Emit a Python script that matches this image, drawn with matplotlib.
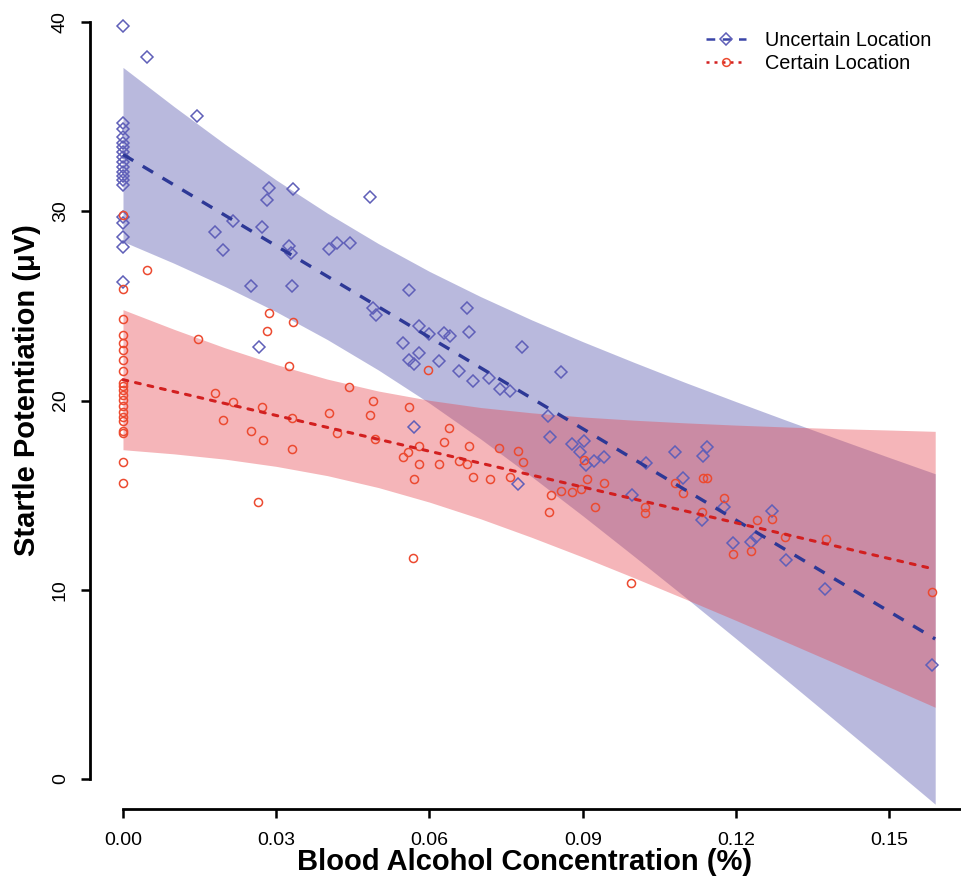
import matplotlib
matplotlib.use('Agg')
import matplotlib.pyplot as plt

plt.rcParams['font.family'] = ['Liberation Sans', 'DejaVu Sans']

# 관측값: Uncertain Location (파란 마름모)
uncertain_bac = [0] * 19 + [
    0.0047, 0.0145, 0.0286, 0.0333, 0.0282, 0.0215, 0.0272, 0.0180, 0.0196, 0.0325,
    0.0329, 0.0403, 0.0419, 0.0444, 0.0251, 0.0331, 0.0266, 0.0484, 0.0560, 0.0490,
    0.0495, 0.0674, 0.0580, 0.0599, 0.0629, 0.0640, 0.0678, 0.0548, 0.0580, 0.0560,
    0.0570, 0.0619, 0.0658, 0.0685, 0.0717, 0.0738, 0.0758, 0.0781, 0.0858, 0.0832,
    0.0836, 0.0879, 0.0895, 0.0903, 0.0907, 0.0922, 0.0942, 0.0570, 0.0773, 0.0997,
    0.1024, 0.1081, 0.1144, 0.1136, 0.1097, 0.1177, 0.1134, 0.1271, 0.1194, 0.1230,
    0.1239, 0.1298, 0.1375, 0.1584]
uncertain_sp = [
    39.79, 34.66, 34.35, 33.92, 33.61, 33.39, 33.13, 32.87, 32.60, 32.34,
    32.07, 31.86, 31.66, 31.39, 29.70, 29.38, 28.64, 28.11, 26.26,
    38.15, 35.03, 31.23, 31.18, 30.59, 29.48, 29.17, 28.90, 27.95, 28.16,
    27.79, 28.01, 28.32, 28.32, 26.05, 26.05, 22.83, 30.75, 25.84, 24.89,
    24.52, 24.89, 23.94, 23.51, 23.57, 23.41, 23.62, 23.04, 22.51, 22.14,
    21.93, 22.09, 21.56, 21.03, 21.19, 20.61, 20.50, 22.83, 21.51, 19.18,
    18.07, 17.70, 17.28, 17.86, 16.59, 16.80, 17.01, 18.60, 15.59, 15.01,
    16.70, 17.28, 17.54, 17.07, 15.90, 14.37, 13.69, 14.16, 12.47, 12.52,
    12.79, 11.57, 10.04, 6.02]

# 관측값: Certain Location (빨간 원)
certain_bac = [0] * 21 + [
    0.0047, 0.0286, 0.0333, 0.0282, 0.0147, 0.0325, 0.0597, 0.0443, 0.0180, 0.0215,
    0.0272, 0.0196, 0.0331, 0.0403, 0.0419, 0.0251, 0.0274, 0.0331, 0.0264, 0.0490,
    0.0484, 0.0560, 0.0493, 0.0638, 0.0629, 0.0580, 0.0558, 0.0548, 0.0677, 0.0580,
    0.0619, 0.0658, 0.0674, 0.0570, 0.0685, 0.0719, 0.0736, 0.0773, 0.0783, 0.0758,
    0.0838, 0.0858, 0.0879, 0.0834, 0.0897, 0.0909, 0.0903, 0.0942, 0.0924, 0.0568,
    0.1022, 0.1022, 0.1081, 0.1097, 0.1136, 0.1144, 0.1134, 0.1177, 0.1241, 0.1271,
    0.1194, 0.1230, 0.1296, 0.1377, 0.1584, 0.0995]
certain_sp = [
    29.80, 25.89, 24.31, 23.46, 23.04, 22.67, 22.14, 21.56, 20.92, 20.77,
    20.56, 20.29, 20.03, 19.71, 19.39, 19.13, 18.92, 18.39, 18.28, 16.75, 15.64,
    26.90, 24.62, 24.15, 23.67, 23.25, 21.82, 21.61, 20.71, 20.40, 19.92,
    19.66, 18.97, 19.08, 19.34, 18.28, 18.39, 17.91, 17.44, 14.64, 19.97,
    19.23, 19.66, 17.97, 18.55, 17.81, 17.60, 17.28, 17.01, 17.60, 16.64,
    16.64, 16.80, 16.64, 15.85, 15.96, 15.85, 17.49, 17.33, 16.75, 15.96,
    15.01, 15.22, 15.17, 14.11, 15.32, 15.85, 16.86, 15.64, 14.37, 11.68,
    14.37, 14.06, 15.64, 15.11, 15.90, 15.90, 14.11, 14.85, 13.69, 13.74,
    11.89, 12.05, 12.79, 12.68, 9.88, 10.36]

# 회귀선 (양 끝값)
fit_bac = [0.0, 0.159]
uncertain_fit = [33.0, 7.40]
certain_fit = [21.1, 11.08]

# 신뢰구간 밴드
band_bac = [0.0, 0.01, 0.02, 0.03, 0.04, 0.05, 0.06, 0.07, 0.08,
            0.09, 0.10, 0.11, 0.12, 0.13, 0.14, 0.15, 0.159]
uncertain_hi = [37.60, 35.53, 33.54, 31.65, 29.90, 28.29, 26.82, 25.49, 24.26,
                23.11, 22.02, 20.96, 19.94, 18.94, 17.96, 16.99, 16.13]
uncertain_lo = [28.40, 27.25, 26.02, 24.69, 23.22, 21.61, 19.86, 17.97, 15.98,
                13.91, 11.78, 9.62, 7.42, 5.20, 2.96, 0.71, -1.33]
certain_hi = [24.80, 23.76, 22.78, 21.90, 21.13, 20.50, 20.01, 19.63, 19.35,
              19.13, 18.96, 18.82, 18.70, 18.60, 18.51, 18.44, 18.37]
certain_lo = [17.40, 17.18, 16.90, 16.52, 16.03, 15.40, 14.63, 13.75, 12.77,
              11.73, 10.64, 9.52, 8.38, 7.22, 6.05, 4.86, 3.79]

x_ticks = [0.00, 0.03, 0.06, 0.09, 0.12, 0.15]
x_ticklabels = ['0.00', '0.03', '0.06', '0.09', '0.12', '0.15']
y_ticks = [0, 10, 20, 30, 40]
y_ticklabels = ['0', '10', '20', '30', '40']

W, H = 962, 886
fig = plt.figure(figsize=(W / 100, H / 100), dpi=100)
# 축 영역 (픽셀 기준으로 배치)
ax = fig.add_axes([90.3 / W, (H - 809.3) / H, (973 - 90.3) / W, (809.3 + 8.3) / H])
ax.set_xlim(-0.0064, 0.1664)
ax.set_ylim(-1.6, 41.6)

# 밴드
ax.fill_between(band_bac, uncertain_lo, uncertain_hi,
                color=(82 / 255, 82 / 255, 172 / 255), alpha=0.4, lw=0, zorder=1)
ax.fill_between(band_bac, certain_lo, certain_hi,
                color=(230 / 255, 72 / 255, 80 / 255), alpha=0.4, lw=0, zorder=2)

# 점
ax.plot(uncertain_bac, uncertain_sp, ls='none', marker='D', ms=6.3, mfc='none',
        mec='#5f5fb8', mew=1.1, zorder=3)
ax.plot(certain_bac, certain_sp, ls='none', marker='o', ms=5.8, mfc='none',
        mec='#ec4a30', mew=1.1, zorder=3)

# 회귀선
ax.plot(fit_bac, uncertain_fit, color='#2d3896', lw=2.4, ls=(0, (3.6, 3.3)),
        dash_capstyle='butt', zorder=4)
ax.plot(fit_bac, certain_fit, color='#d21f1f', lw=2.2, ls=(0, (1.6, 2.6)),
        dash_capstyle='round', zorder=4)

# 범례
h1, = ax.plot([], [], color='#3a45a8', lw=1.8, ls=(0, (3.5, 3)), marker='D', ms=6.0,
              mfc='none', mec='#5f5fb8', mew=1.1)
h2, = ax.plot([], [], color='#d21f1f', lw=1.8, ls=(0, (1.2, 2)), marker='o', ms=5.6,
              mfc='none', mec='#ec4a30', mew=1.1)
fig.legend([h1, h2], ['Uncertain Location', 'Certain Location'],
           loc='upper left', bbox_to_anchor=(706 / W, 1 - 31 / H),
           frameon=False, fontsize=14.3, handlelength=2.0, handletextpad=0.95,
           labelspacing=0.2, borderpad=0, borderaxespad=0)

# 축 스타일 (R 기본 스타일)
for s in ['top', 'right']:
    ax.spines[s].set_visible(False)
ax.spines['left'].set_bounds(0, 40)
ax.spines['bottom'].set_bounds(0, 0.1664)
ax.spines['left'].set_linewidth(2.0)
ax.spines['bottom'].set_linewidth(2.0)

ax.set_xticks(x_ticks)
ax.set_xticklabels(x_ticklabels, fontsize=14)
ax.set_yticks(y_ticks)
ax.set_yticklabels(y_ticklabels, fontsize=14, rotation=90, va='center')
ax.tick_params(axis='both', direction='out', length=6.5, width=1.8, color='black')
ax.tick_params(axis='x', pad=10)
ax.tick_params(axis='y', pad=9)

fig.text(525 / W, 1 - 862 / H, 'Blood Alcohol Concentration (%)',
         fontsize=21, fontweight='bold', ha='center', va='center')
fig.text(27 / W, 1 - 390 / H, 'Startle Potentiation (μV)',
         fontsize=21, fontweight='bold', ha='center', va='center', rotation=90)

fig.savefig('out.png', dpi=100)
